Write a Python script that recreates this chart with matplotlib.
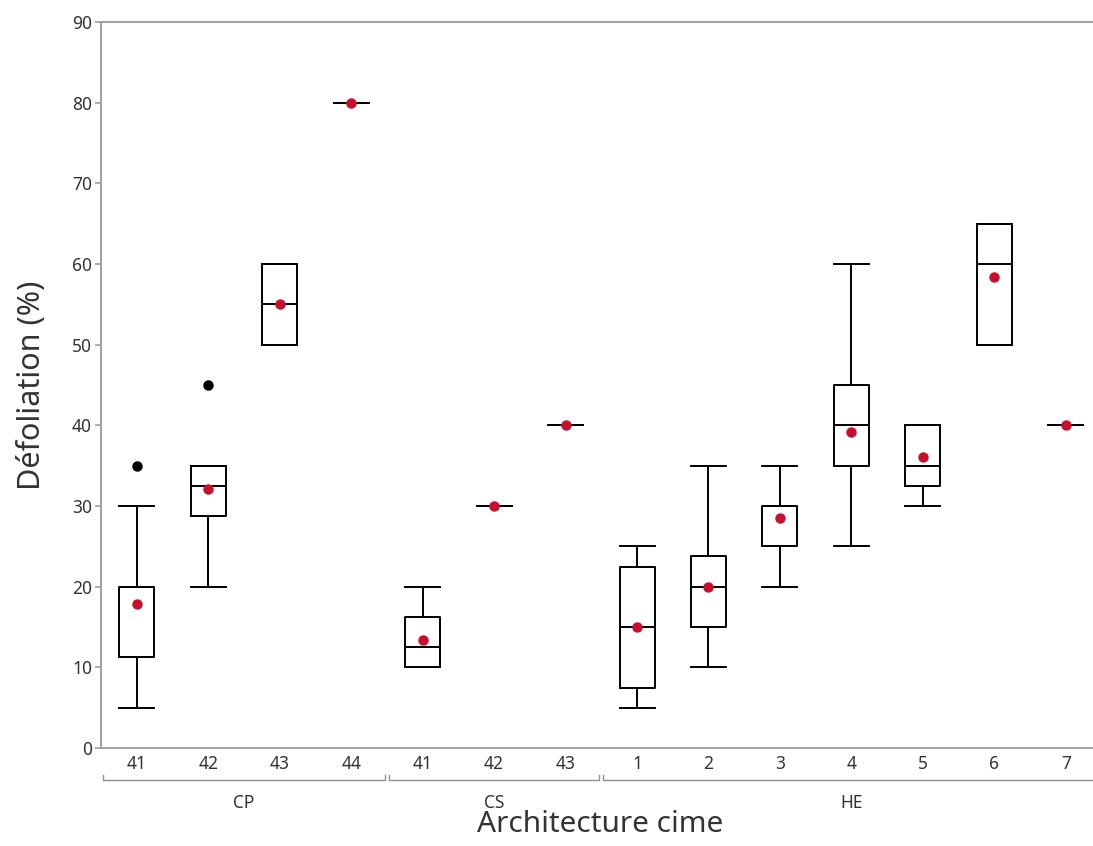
import numpy as np
import matplotlib.pyplot as plt

plt.rcParams['font.family'] = ['Noto Sans', 'DejaVu Sans']

# Categories (group, level)
groups = ['CP', 'CP', 'CP', 'CP', 'CS', 'CS', 'CS', 'HE', 'HE', 'HE', 'HE', 'HE', 'HE', 'HE']
levels = ['41', '42', '43', '44', '41', '42', '43', '1', '2', '3', '4', '5', '6', '7']

# Box statistics
whislo = [5, 20, 50, 80, 10, 30, 40, 5, 10, 20, 25, 30, 50, 40]
q1 = [11.25, 28.75, 50, 80, 10, 30, 40, 7.5, 15, 25, 35, 32.5, 50, 40]
med = [20, 32.5, 55, 80, 12.5, 30, 40, 15, 20, 30, 40, 35, 60, 40]
q3 = [20, 35, 60, 80, 16.25, 30, 40, 22.5, 23.75, 30, 45, 40, 65, 40]
whishi = [30, 35, 60, 80, 20, 30, 40, 25, 35, 35, 60, 40, 65, 40]
means = [17.8, 32.1, 55, 80, 13.4, 30, 40, 15, 20, 28.5, 39.2, 36.1, 58.4, 40]
fliers = [[35], [45], [], [], [], [], [], [], [], [], [], [], [], []]

stats = []
for i in range(len(levels)):
    stats.append(dict(whislo=whislo[i], q1=q1[i], med=med[i], q3=q3[i],
                      whishi=whishi[i], mean=means[i], fliers=fliers[i]))

fig = plt.figure(figsize=(10.93, 8.46), dpi=100)
ax = fig.add_axes([0.0924, 0.1158, 0.9076, 0.8582])

pos = np.arange(len(levels))
lw = 1.4
ax.bxp(stats, positions=pos, widths=0.49, showmeans=True, showcaps=True,
       boxprops=dict(color='black', linewidth=lw),
       medianprops=dict(color='black', linewidth=lw),
       whiskerprops=dict(color='black', linewidth=lw),
       capprops=dict(color='black', linewidth=lw),
       capwidths=0.49,
       meanprops=dict(marker='o', markerfacecolor='#c8102e', markeredgecolor='#c8102e', markersize=6.5),
       flierprops=dict(marker='o', markerfacecolor='black', markeredgecolor='black', markersize=6.5))

ax.set_ylim(0, 90)
ax.set_xlim(-0.5, 13.38)
ax.set_yticks(range(0, 91, 10))
ax.set_xticks(pos)
ax.set_xticklabels(levels)
ax.tick_params(axis='x', length=0, pad=5, labelsize=12.5, labelcolor='#333333')
ax.tick_params(axis='y', length=4.5, color='#a0a0a0', width=1.2, pad=2, labelsize=12.5, labelcolor='#333333')
for s in ['left', 'bottom', 'top']:
    ax.spines[s].set_color('#a0a0a0')
    ax.spines[s].set_linewidth(1.4)
ax.spines['right'].set_visible(False)

ax.set_ylabel('Défoliation (%)', fontsize=22, labelpad=18, color='#333333')

# Group brackets under the tick labels
trans = ax.get_xaxis_transform()
group_names = []
for g in groups:
    if g not in group_names:
        group_names.append(g)
y_br = -0.044
for g in group_names:
    idx = [i for i, x in enumerate(groups) if x == g]
    x0 = idx[0] - 0.47
    x1 = idx[-1] + 0.47
    ax.plot([x0, x0, x1, x1], [y_br + 0.007, y_br, y_br, y_br + 0.007], color='#909090',
            linewidth=1.0, transform=trans, clip_on=False)
    ax.text((idx[0] + idx[-1]) / 2, -0.063, g, transform=trans, ha='center', va='top',
            fontsize=12.5, color='#333333')

fig.text(0.549, 0.008, 'Architecture cime', ha='center', va='bottom', fontsize=21.5, color='#333333')

fig.savefig('out.png', dpi=100)
